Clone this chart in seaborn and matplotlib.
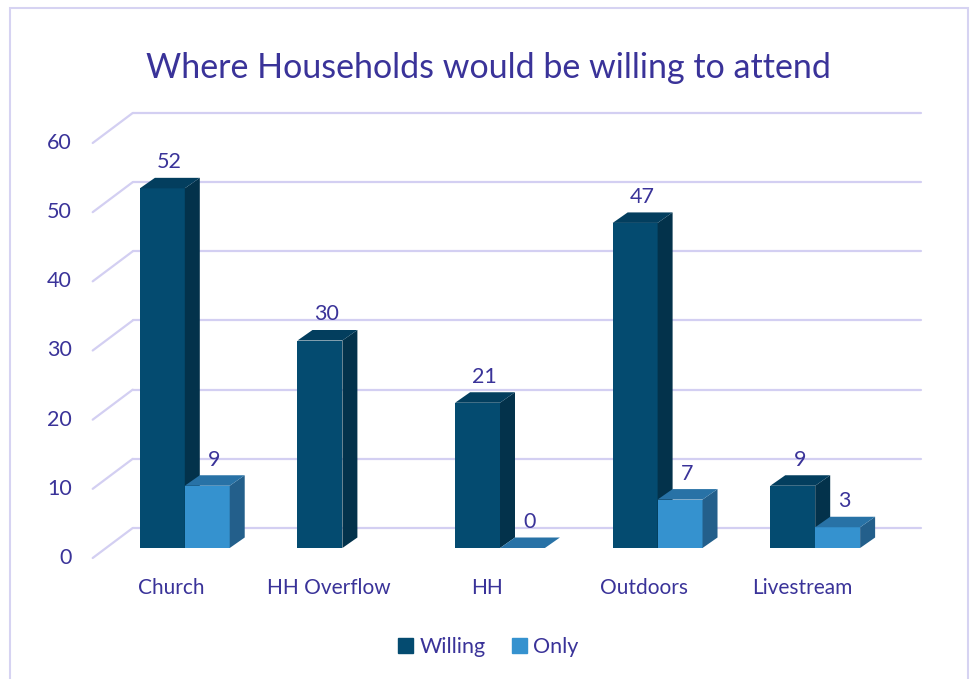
import numpy as np
import pandas as pd
import matplotlib
matplotlib.use("Agg")
import matplotlib.pyplot as plt
from matplotlib.patches import Polygon, Rectangle, Patch
import seaborn as sns

categories = ["Church", "HH Overflow", "HH", "Outdoors", "Livestream"]
willing = [52, 30, 21, 47, 9]
only = [9, np.nan, 0, 7, 3]
series = ["Willing", "Only"]
yticks = [0, 10, 20, 30, 40, 50, 60]

front_col = {"Willing": "#044b70", "Only": "#3592cf"}
side_col = {"Willing": "#03324b", "Only": "#235f8b"}
top_col = {"Willing": "#033e5e", "Only": "#2872a6"}
txt_col = "#3a3399"
grid_col = "#d3cff2"

df = pd.DataFrame({"cat": categories, "Willing": willing, "Only": only})
df = df.melt(id_vars="cat", var_name="series", value_name="value")

sns.set_style("white")
plt.rcParams["font.family"] = ["Lato", "DejaVu Sans"]

fig = plt.figure(figsize=(9.77, 6.79), dpi=100)
W, H = 977, 679
ax = fig.add_axes([106 / W, 131 / H, 788 / W, 415 / H])

sns.barplot(data=df, x="cat", y="value", hue="series", hue_order=series,
            order=categories, palette=front_col, width=0.57, saturation=1,
            legend=False, ax=ax, linewidth=0)
ax.set_xlim(-0.5, 4.5)
ax.set_ylim(0, 60)
ax.axis("off")

# pixel -> data scale
p = ax.transData.transform([(0, 0), (1, 1)])
sx = p[1, 0] - p[0, 0]
sy = p[1, 1] - p[0, 1]
back = (26.7 / sx, 20 / sy)
front = (-13.3 / sx, -10 / sy)
depth = (15 / sx, 10.5 / sy)

# back wall + side wall grid
x0, x1 = ax.get_xlim()
for v in yticks:
    ax.plot([x0 + back[0], x1 + back[0]], [v + back[1], v + back[1]],
            color=grid_col, lw=1.6, zorder=0, clip_on=False)
    ax.plot([x0 + front[0], x0 + back[0]], [v + front[1], v + back[1]],
            color=grid_col, lw=1.6, zorder=0, clip_on=False)
    ax.text(x0 + front[0] - 21 / sx, v + front[1], str(v), ha="right", va="center",
            fontsize=15.5, color=txt_col)

for i, c in enumerate(categories):
    ax.text(i + front[0], front[1] - 30 / sy, c, ha="center", va="center",
            fontsize=15, color=txt_col)

# 3d faces
for k, (s, cont) in enumerate(zip(series, ax.containers)):
    for bar in cont:
        h = bar.get_height()
        if np.isnan(h):
            continue
        bx0 = bar.get_x()
        bx1 = bx0 + bar.get_width()
        bar.set_zorder(2 + k)
        top = [(bx0, h), (bx1, h), (bx1 + depth[0], h + depth[1]), (bx0 + depth[0], h + depth[1])]
        side = [(bx1, 0), (bx1, h), (bx1 + depth[0], h + depth[1]), (bx1 + depth[0], depth[1])]
        ax.add_patch(Polygon(side, closed=True, fc=side_col[s], ec="none", zorder=2.1 + k, clip_on=False))
        ax.add_patch(Polygon(top, closed=True, fc=top_col[s], ec="none", zorder=2.2 + k, clip_on=False))
        ax.annotate(f"{h:.0f}", xy=((bx0 + bx1) / 2, h), xytext=(7, 26),
                    textcoords="offset pixels", ha="center", va="center",
                    fontsize=15.5, color=txt_col, zorder=5)

fig.text(0.5, 1 - 68 / H, "Where Households would be willing to attend",
         ha="center", va="center", fontsize=24.5, color=txt_col)

handles = [Patch(color=front_col[s], label=s) for s in series]
leg = fig.legend(handles=handles, loc="center", bbox_to_anchor=(0.5, 1 - 647 / H),
                 ncol=2, frameon=False, fontsize=15.5, handlelength=0.7,
                 handleheight=0.7, handletextpad=0.3, columnspacing=1.2)
for t in leg.get_texts():
    t.set_color(txt_col)

fig.patches.append(Rectangle((10 / W, -0.05), 958 / W, 1.05 - 8 / H, transform=fig.transFigure,
                             fill=False, ec="#d6d3f2", lw=1.5))

fig.savefig("out.png", dpi=100)
